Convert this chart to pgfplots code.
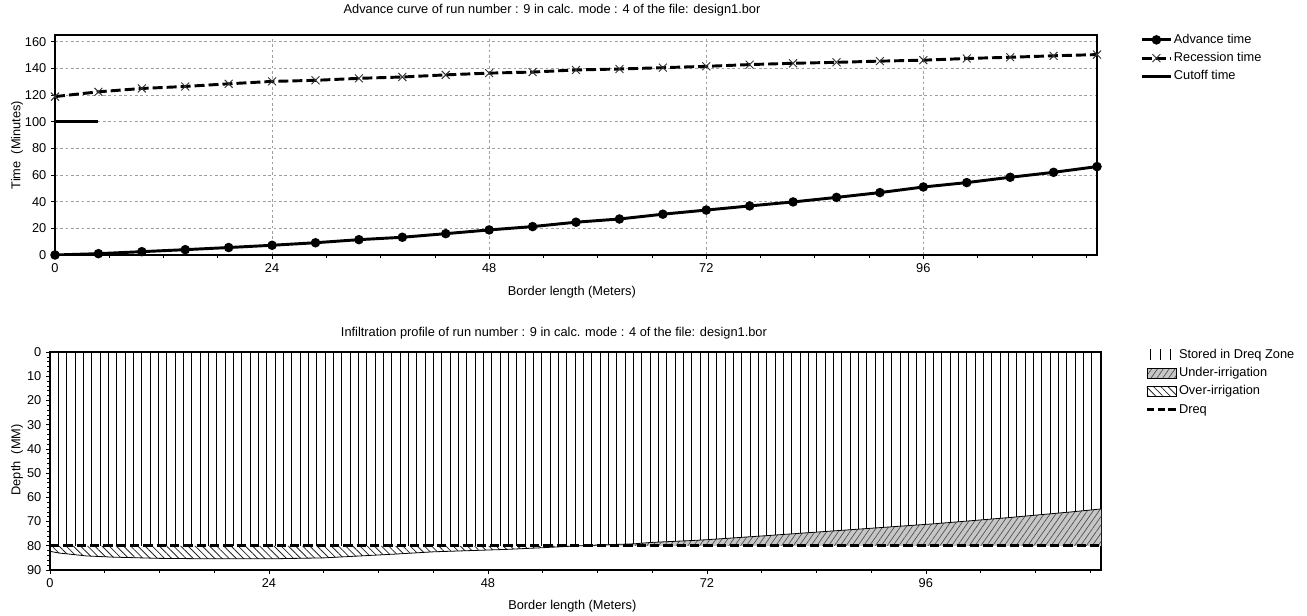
\documentclass[border=0pt]{standalone}
\usepackage{fontspec}
\setmainfont{Liberation Sans}
\usepackage{pgfplots}
\pgfplotsset{compat=1.18}
\usetikzlibrary{patterns.meta}

\pgfplotsset{
  every axis title shift=0pt,
  common/.style={
    scale only axis,
    anchor=north west,
    xmin=0, xmax=115.2,
    xtick={0,24,48,72,96},
    minor xtick={6,12,18,30,36,42,54,60,66,78,84,90,102,108,114},
    xtick pos=left, ytick pos=left,
    tick align=outside,
    major tick length=3pt, minor tick length=2pt,
    tick style={black, line width=0.5pt},
    axis line style={black, line width=1pt},
    /pgf/number format/assume math mode=true,
    xlabel={Border length (Meters)},
    legend cell align=left,
  }
}

\begin{document}
\begin{tikzpicture}[font=\fontsize{9.6}{11.5}\selectfont]
\path[use as bounding box] (0pt,0pt) rectangle (980.25pt,-462pt);

% ---------------- Top: advance curve ----------------
\begin{axis}[common,
  at={(41.25pt,-26.25pt)},
  width=781.5pt, height=165pt,
  ymin=0, ymax=165,
  ytick={0,20,...,160},
  grid=major,
  grid style={dash pattern=on 2pt off 2pt, gray!75, line width=0.5pt},
  ylabel={Time\ \ (Minutes)},
  title={Advance curve of run number : 9 in calc. mode : 4 of the file: design1.bor},
  title style={at={(0.477,1.114)}, anchor=center},
  xlabel style={at={(0.496,-0.168)}, anchor=center},
  ylabel style={at={(-0.0365,0.5)}, anchor=center},
  legend style={at={(1.0413,1.01)}, anchor=north west, draw=none, fill=none,
    inner sep=0pt, row sep=3.5pt,
    nodes={inner ysep=0.6pt, inner xsep=1pt, text height=7pt, text depth=2pt}},
  legend image code/.code={\draw[#1, mark repeat=2, mark phase=2] plot coordinates {(0pt,0pt) (11pt,0pt) (22pt,0pt)};},
]
\addplot[black, line width=2.2pt, mark=*, mark size=2.4pt] coordinates {
(0,0) (4.8,1.0) (9.6,2.5) (14.4,4.0) (19.2,5.6) (24,7.3) (28.8,9.2) (33.6,11.5)
(38.4,13.3) (43.2,16.0) (48,18.8) (52.8,21.3) (57.6,24.6) (62.4,27.0) (67.2,30.6)
(72,33.7) (76.8,36.8) (81.6,39.8) (86.4,43.2) (91.2,46.8) (96,51.0) (100.8,54.3)
(105.6,58.3) (110.4,62.0) (115.2,66.3)};
\addlegendentry{Advance time}
\addplot[black, line width=2.2pt, dash pattern=on 7.5pt off 3pt, mark=x, mark size=4.2pt,
  mark options={solid, line width=0.7pt, black!80}] coordinates {
(0,118.8) (4.8,122.4) (9.6,124.9) (14.4,126.4) (19.2,128.4) (24,130.2) (28.8,131.0)
(33.6,132.5) (38.4,133.5) (43.2,135.1) (48,136.4) (52.8,137.2) (57.6,138.8) (62.4,139.5)
(67.2,140.5) (72,141.5) (76.8,142.8) (81.6,143.8) (86.4,144.5) (91.2,145.4) (96,146.1)
(100.8,147.4) (105.6,148.3) (110.4,149.4) (115.2,150.3)};
\addlegendentry{Recession time}
\addplot[black, line width=2.2pt] coordinates {(0,100) (4.8,100)};
\addlegendentry{Cutoff time}
\end{axis}

% ---------------- Bottom: infiltration profile ----------------
\begin{axis}[common,
  at={(37.5pt,-264pt)},
  width=788.25pt, height=163.5pt,
  ymin=0, ymax=90, y dir=reverse,
  ytick={0,10,...,90},
  minor y tick num=4,
  ylabel={Depth\ \ (MM)},
  title={Infiltration profile of run number : 9 in calc. mode : 4 of the file: design1.bor},
  title style={at={(0.4795,1.087)}, anchor=center},
  xlabel style={at={(0.497,-0.168)}, anchor=center},
  ylabel style={at={(-0.0314,0.505)}, anchor=center},
  legend style={at={(1.042,1.02)}, anchor=north west, draw=none, fill=none,
    inner sep=0pt, row sep=3.6pt,
    nodes={inner ysep=0.6pt, inner xsep=1pt, text height=7pt, text depth=2pt}},
]
% stored in Dreq zone
\addplot[forget plot, draw=none, pattern={Lines[angle=90, distance=6.25pt, line width=0.7pt]}, pattern color=black]
coordinates {(0,0) (0,80) (58.2,80) (60,79.7) (64,79.2) (66,78.6) (70,77.9) (72,77.5)
(79,75.7) (86.5,73.7) (97,70.9) (105,68.4) (112,66.0) (115.2,64.8) (115.2,0)} -- cycle;
% over-irrigation
\addplot[forget plot, draw=none, pattern={Lines[angle=-45, distance=3.8pt, line width=0.6pt]}, pattern color=black!85]
coordinates {(0,80) (0,82.3) (1,83.0) (2.5,83.6) (4,84.2) (7,84.7) (12,85.2) (18,85.4)
(24,85.4) (30,85.0) (34,84.2) (38,83.4) (42,82.5) (46,82.0) (50,81.5) (54,80.8) (57,80.2) (58.2,80)} -- cycle;
% under-irrigation
\addplot[forget plot, draw=none, fill=gray!45, postaction={pattern={Lines[angle=55, distance=3.6pt, line width=0.5pt]}, pattern color=black!70}]
coordinates {(58.2,80) (60,79.7) (64,79.2) (66,78.6) (70,77.9) (72,77.5) (79,75.7) (86.5,73.7)
(97,70.9) (105,68.4) (112,66.0) (115.2,64.8) (115.2,80)} -- cycle;
% infiltrated depth outline
\addplot[forget plot, black, line width=0.6pt] coordinates {
(0,82.3) (1,83.0) (2.5,83.6) (4,84.2) (7,84.7) (12,85.2) (18,85.4)
(24,85.4) (30,85.0) (34,84.2) (38,83.4) (42,82.5) (46,82.0) (50,81.5) (54,80.8) (57,80.2) (58.2,80)
(60,79.7) (64,79.2) (66,78.6) (70,77.9) (72,77.5) (79,75.7) (86.5,73.7)
(97,70.9) (105,68.4) (112,66.0) (115.2,64.8)};
% Dreq
\addplot[forget plot, black, line width=2.2pt, dash pattern=on 7pt off 3pt] coordinates {(0,80) (115.2,80)};

\addlegendimage{legend image code/.code={
  \draw[black, line width=0.8pt] (3pt,-4pt)--(3pt,4pt) (10.5pt,-4pt)--(10.5pt,4pt) (18pt,-4pt)--(18pt,4pt);}}
\addlegendentry{Stored in Dreq Zone}
\addlegendimage{legend image code/.code={
  \path[fill=gray!45, postaction={pattern={Lines[angle=55, distance=3.6pt, line width=0.5pt]}, pattern color=black!70}] (0pt,-3.8pt) rectangle (22pt,3.8pt);}}
\addlegendentry{Under-irrigation}
\addlegendimage{legend image code/.code={
  \path[pattern={Lines[angle=-45, distance=3.8pt, line width=0.6pt]}, pattern color=black!85] (0pt,-3.8pt) rectangle (22pt,3.8pt);}}
\addlegendentry{Over-irrigation}
\addlegendimage{legend image code/.code={
  \draw[black, line width=2.2pt, dash pattern=on 5.5pt off 2.5pt] (0pt,0pt)--(22pt,0pt);}}
\addlegendentry{Dreq}
\end{axis}
\end{tikzpicture}
\end{document}
